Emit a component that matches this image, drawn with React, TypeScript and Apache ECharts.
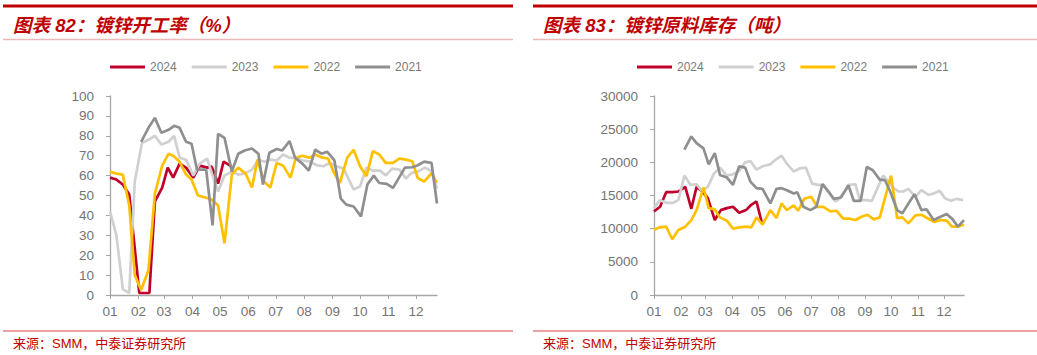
import React, { useEffect, useRef } from "react";
import * as echarts from "echarts";

// ---- shared labels ----
const seriesNames = ["2024", "2023", "2022", "2021"];
const seriesColors = ["#c0002a", "#d0d0d0", "#ffc000", "#8f8f8f"];
const monthStarts = [0, 31, 59, 90, 120, 151, 181, 212, 243, 273, 304, 334];
const monthLabels = ["01", "02", "03", "04", "05", "06", "07", "08", "09", "10", "11", "12"];
const dayMax = 357;

// ---- chart 82: galvanizing operating rate (%) [day of year, value] ----
const op2024: [number, number][] = [
  [0, 59], [7, 58], [14, 55.5], [21, 50.5], [32, 1], [43, 1], [49, 47], [57, 54], [63, 64], [69, 59],
  [76, 66], [83, 64], [91, 59], [98, 65], [106, 64], [111, 64.5], [118, 56], [124, 67], [133, 64.5],
];
const op2023: [number, number][] = [
  [0, 42], [7, 30], [14, 3], [21, 1], [27, 57], [35, 76.5], [42, 78], [49, 80], [56, 75.6], [64, 77],
  [70, 80], [76, 69], [83, 68], [91, 60], [98, 66], [106, 68.6], [112, 60], [118, 52], [125, 60], [133, 62],
  [140, 60.5], [147, 61], [155, 63], [162, 68], [169, 67], [175, 68], [182, 67.6], [189, 70.6], [196, 69],
  [204, 68.6], [211, 67.6], [218, 67], [226, 65.2], [233, 64.7], [240, 66.4], [247, 64.7], [255, 63.5],
  [266, 53], [273, 54.6], [280, 64], [287, 62.5], [295, 62.5], [301, 60], [308, 63.5], [316, 63],
  [323, 58.5], [329, 61.3], [336, 62], [344, 64], [351, 62.2], [357, 53.5],
];
const op2022: [number, number][] = [
  [0, 62], [7, 61], [14, 60.5], [21, 45], [27, 10], [34, 2.5], [42, 12.6], [49, 51], [57, 65], [64, 71],
  [69, 70], [76, 67], [83, 60.5], [89, 58], [96, 50], [104, 49], [111, 48], [118, 45], [125, 26], [133, 60.5],
  [140, 64], [148, 61], [155, 54], [161, 68], [168, 57], [175, 54], [182, 66.4], [189, 65], [197, 59],
  [203, 69], [210, 70], [218, 69], [224, 70.6], [232, 69], [238, 68.6], [245, 61], [251, 56.3], [259, 69],
  [266, 73], [273, 64.7], [280, 59.7], [287, 72.3], [294, 70.6], [301, 66.4], [309, 66.4], [316, 68.6],
  [323, 68], [330, 67.2], [336, 58.8], [343, 57], [351, 61.3], [357, 56.3],
];
const op2021: [number, number][] = [
  [34, 77], [42, 84], [49, 89], [56, 81.5], [64, 83], [70, 85], [76, 84], [83, 77], [89, 76], [95, 63],
  [105, 63], [112, 35], [118, 81], [125, 79], [133, 62], [140, 71], [147, 72.6], [155, 73.6], [162, 71],
  [167, 55.5], [174, 71.5], [182, 73.4], [188, 72.6], [196, 77.3], [202, 69], [210, 66], [217, 62.5],
  [224, 73], [231, 71], [237, 72], [245, 67.6], [252, 48.4], [258, 45.4], [266, 44.5], [274, 39.5],
  [281, 55.5], [288, 60], [294, 56.3], [302, 55.8], [309, 53.8], [322, 64], [330, 64.2], [336, 65.2],
  [343, 67], [351, 66.4], [357, 46],
];

// ---- chart 83: galvanizing raw material inventory (t) ----
const inv2024: [number, number][] = [
  [0, 12600], [7, 13300], [14, 15500], [21, 15500], [28, 15600], [36, 16300], [43, 13000], [49, 16300],
  [55, 15700], [62, 14600], [70, 11300], [77, 12800], [84, 13100], [91, 13300], [98, 12400], [106, 12800],
  [112, 13600], [118, 14100], [124, 11000],
];
const inv2023: [number, number][] = [
  [0, 13100], [7, 14300], [14, 13900], [22, 13900], [28, 14300], [35, 18000], [42, 16600], [49, 16700],
  [55, 15700], [62, 16300], [69, 18300], [76, 19200], [84, 18000], [91, 18200], [98, 18700], [105, 20000],
  [111, 20200], [118, 18900], [125, 19400], [134, 19700], [141, 20500], [147, 21000], [153, 19800],
  [161, 18600], [168, 19100], [175, 19200], [182, 16800], [189, 16600], [195, 16600], [203, 15100],
  [209, 14100], [216, 14800], [224, 16600], [232, 16700], [237, 14300], [244, 14300], [251, 14200],
  [259, 16600], [264, 18000], [270, 17100], [276, 16100], [282, 15600], [287, 15600], [293, 16000],
  [301, 14800], [308, 15800], [316, 15100], [322, 15300], [329, 15700], [335, 14600], [342, 14200],
  [349, 14500], [356, 14300],
];
const inv2022: [number, number][] = [
  [0, 9800], [6, 10200], [14, 10300], [21, 8400], [28, 9800], [36, 10300], [43, 11300], [49, 12800],
  [57, 16200], [63, 13100], [70, 12900], [76, 11700], [84, 11200], [91, 10000], [98, 10200], [106, 10300],
  [112, 10200], [118, 11700], [125, 10600], [134, 12800], [141, 11600], [147, 13800], [153, 12800],
  [161, 13500], [166, 12700], [173, 14500], [181, 14800], [188, 13300], [195, 13300], [203, 12600],
  [210, 12700], [218, 11500], [225, 11500], [232, 11300], [239, 11800], [246, 12100], [253, 11400],
  [260, 11700], [267, 15100], [273, 18000], [280, 11600], [286, 11700], [293, 10800], [301, 12000],
  [308, 12100], [316, 11500], [323, 11000], [330, 11300], [337, 11200], [343, 10300], [349, 10300],
  [357, 10600],
];
const inv2021: [number, number][] = [
  [35, 21900], [43, 23900], [49, 22900], [57, 22100], [63, 19700], [70, 21400], [76, 18100], [84, 17700],
  [91, 16600], [98, 19400], [105, 19200], [111, 17100], [118, 16100], [125, 16000], [134, 13800],
  [141, 16000], [147, 16100], [153, 15800], [161, 15300], [165, 15500], [172, 13300], [180, 12800],
  [187, 13300], [194, 16700], [201, 15600], [207, 14500], [215, 14700], [224, 16500], [230, 14200],
  [238, 14200], [245, 19300], [252, 18800], [260, 17400], [266, 17300], [272, 15600], [280, 12800],
  [286, 12300], [293, 13800], [300, 15200], [308, 12800], [314, 12900], [322, 11300], [330, 11800],
  [337, 12200], [344, 11400], [350, 10300], [357, 11300],
];

const rateSeries = [op2024, op2023, op2022, op2021];
const invSeries = [inv2024, inv2023, inv2022, inv2021];

const titles = ["图表 82：镀锌开工率（%）", "图表 83：镀锌原料库存（吨）"];
const sourceText = "来源：SMM，中泰证券研究所";

const LATIN = "'Liberation Sans', Arial, 'Noto Sans CJK SC', sans-serif";

export default function App() {
  const ref = useRef<HTMLDivElement>(null);

  useEffect(() => {
    if (!ref.current) return;
    const chart = echarts.init(ref.current, undefined, { renderer: "svg" });

    const axisColor = "#a6a6a6";
    const labelColor = "#737373";

    const xAxes = [0, 1].map((i) => ({
      type: "value",
      gridIndex: i,
      min: 0,
      max: dayMax,
      splitLine: { show: false },
      axisLine: { show: true, onZero: false, lineStyle: { color: axisColor, width: 1.3 } },
      axisTick: { show: true, length: 4, customValues: monthStarts, lineStyle: { color: axisColor } },
      axisLabel: {
        customValues: monthStarts,
        formatter: (v: number) => {
          const idx = monthStarts.indexOf(Math.round(v));
          return idx >= 0 ? monthLabels[idx] : "";
        },
        color: labelColor,
        fontSize: 13.5,
        fontFamily: LATIN,
        margin: 10,
      },
    }));

    const yAxes = [
      { max: 100, interval: 10 },
      { max: 30000, interval: 5000 },
    ].map((a, i) => ({
      type: "value",
      gridIndex: i,
      min: 0,
      max: a.max,
      interval: a.interval,
      splitLine: { show: false },
      axisLine: { show: true, onZero: false, lineStyle: { color: axisColor, width: 1.3 } },
      axisTick: { show: true, length: 4, lineStyle: { color: axisColor } },
      axisLabel: {
        color: labelColor,
        fontSize: 13.5,
        fontFamily: LATIN,
        margin: 16,
        formatter: (v: number) => String(v),
      },
    }));

    const mkSeries = (sets: [number, number][][], axis: number) =>
      sets.map((d, k) => ({
        name: seriesNames[k],
        type: "line",
        xAxisIndex: axis,
        yAxisIndex: axis,
        data: d,
        symbol: "none",
        showSymbol: false,
        lineStyle: { width: 2.7, color: seriesColors[k] },
        itemStyle: { color: seriesColors[k] },
        z: 2 + k,
      }));

    const legendBase = {
      top: 56,
      itemWidth: 35,
      itemHeight: 3,
      itemGap: 15,
      icon: "rect",
      data: seriesNames,
      textStyle: { color: "#7a7a7a", fontSize: 12, fontFamily: LATIN },
    };

    const panels = [
      { x0: 3, x1: 513, tx: 13 },
      { x0: 533, x1: 1037, tx: 543 },
    ];
    const graphic: any[] = [];
    panels.forEach((p, i) => {
      graphic.push({
        type: "line",
        shape: { x1: p.x0, y1: 6, x2: p.x1, y2: 6 },
        style: { stroke: "#c00000", lineWidth: 3 },
      });
      graphic.push({
        type: "line",
        shape: { x1: p.x0, y1: 39.5, x2: p.x1, y2: 39.5 },
        style: { stroke: "#ebb9b9", lineWidth: 1.5 },
      });
      graphic.push({
        type: "line",
        shape: { x1: p.x0, y1: 331, x2: p.x1, y2: 331 },
        style: { stroke: "#e38282", lineWidth: 1.5 },
      });
      graphic.push({
        type: "text",
        x: p.tx,
        y: 25,
        style: {
          text: titles[i],
          fill: "#c00000",
          fontSize: 18.5,
          fontWeight: "bold",
          fontStyle: "italic",
          fontFamily: LATIN,
          verticalAlign: "middle",
        },
      });
      graphic.push({
        type: "text",
        x: p.tx,
        y: 343,
        style: {
          text: sourceText,
          fill: "#c00000",
          fontSize: 13,
          fontFamily: LATIN,
          verticalAlign: "middle",
        },
      });
    });

    chart.setOption({
      animation: false,
      backgroundColor: "#ffffff",
      grid: [
        { left: 110, top: 96, width: 327, height: 199 },
        { left: 654, top: 96, width: 310, height: 199 },
      ],
      legend: [
        { ...legendBase, left: 105 },
        { ...legendBase, left: 632 },
      ],
      xAxis: xAxes,
      yAxis: yAxes,
      series: [...mkSeries(rateSeries, 0), ...mkSeries(invSeries, 1)],
      graphic,
    });

    return () => chart.dispose();
  }, []);

  return (
    <div
      ref={ref}
      style={{ position: "absolute", left: 0, top: 0, width: 1037, height: 355 }}
    />
  );
}
